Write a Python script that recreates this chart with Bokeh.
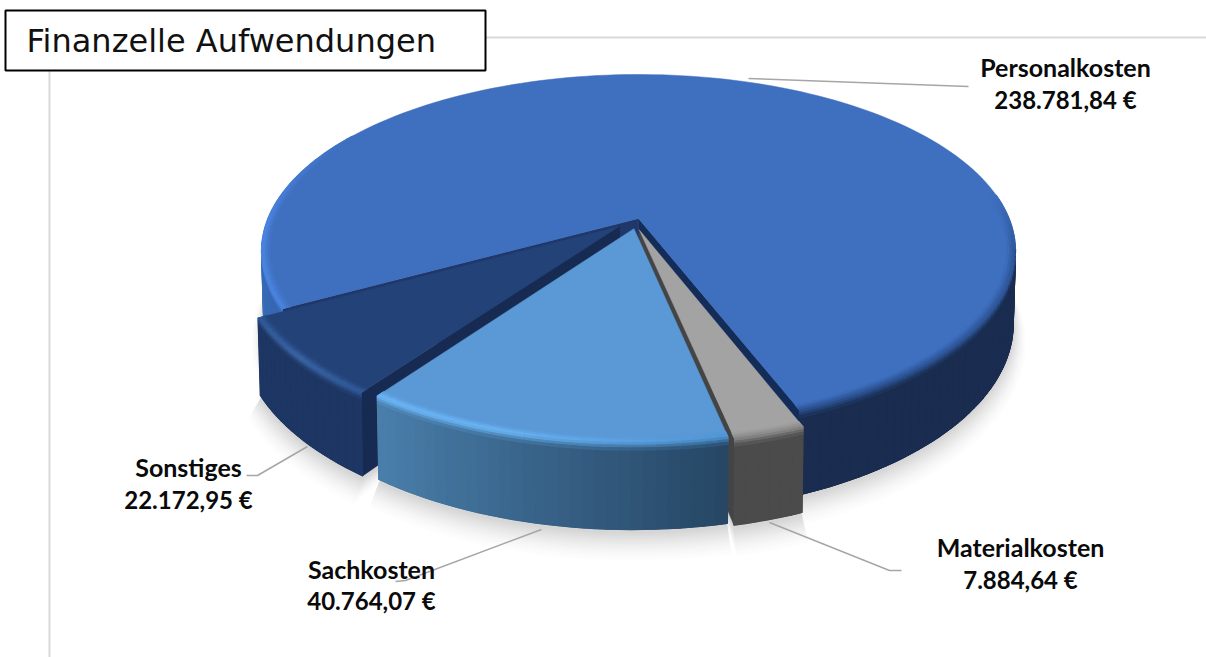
import numpy as np
from bokeh.plotting import figure
from bokeh.embed import file_html
from bokeh.resources import INLINE
from bokeh.core.properties import value

title = "Finanzelle Aufwendungen"
categories = ["Personalkosten", "Materialkosten", "Sachkosten", "Sonstiges"]
values = [238781.84, 7884.64, 40764.07, 22172.95]
explode = [0.0, 0.065, 0.06, 0.068]
explode_turn = [0.0, 15.0, 0.0, 0.0]
top_col = ["#3f6fbf", "#a3a3a3", "#5a98d6", "#234278"]

W, H = 1206, 657
CX, CY, A, B, K, D = 638.0, 218.0, 370.6, 170.5, 0.184, 70.0
FIRST = -118.8

p = figure(width=W, height=H, x_range=(0, W), y_range=(H, 0), output_backend="svg",
           toolbar_location=None, min_border=0, margin=(0, 0, 0, 0),
           outline_line_color=None, background_fill_color="white", border_fill_color="white")
p.axis.visible = False
p.grid.visible = False


def rgb(h):
    return np.array([int(h[i:i + 2], 16) for i in (1, 3, 5)], float)


def mix(a, b, t):
    t = min(max(t, 0.0), 1.0)
    c = rgb(a) * (1 - t) + rgb(b) * t
    return "#%02x%02x%02x" % tuple(int(round(x)) for x in c)


def proj(th, r, z, off):
    u = r * np.sin(np.radians(th)) + off[0]
    v = -r * np.cos(np.radians(th)) + off[1]
    s = 1 / (1 - K * v)
    shrink = 1 - 0.006 * min(z, 1.0)
    return CX + A * u * s * shrink, CY + B * v * s + z * D * s


def arc(t0, t1, r, z, off, n):
    ts = np.linspace(t0, t1, n + 1)
    x, y = proj(ts, r, z, off)
    return list(x), list(y)


total = sum(values)
spans = [v / total * 360 for v in values]
starts = [FIRST + sum(spans[:i]) for i in range(4)]
ends = [s + d for s, d in zip(starts, spans)]
offs = []
for s, d, e, turn in zip(starts, spans, explode, explode_turn):
    m = np.radians(s + d / 2 + turn)
    offs.append((e * np.sin(m), -e * np.cos(m)))


def centre(off, z):
    x, y = proj(0.0, 0.0, z, off)
    return float(x), float(y)


# frame lines and soft shadow
p.line([485, W], [37, 37], line_color="#d9d9d9", line_width=2)
p.line([49, 49], [70, H], line_color="#d9d9d9", line_width=2)
N_SH = 14
for k in range(N_SH):
    f = k / (N_SH - 1)
    grow = 0.030 * (1 - f)
    col = mix("#fdfdfd", "#d6d6d6", f ** 1.4)
    xs, ys = [], []
    for i in range(4):
        cx, cy = centre(offs[i], 1.0)
        ax, ay = arc(starts[i], ends[i], 1 + grow, 1.04 + grow * 7, offs[i], 90)
        xs.append([cx] + ax)
        ys.append([cy] + ay)
    p.patches(xs, ys, fill_color=col, line_color=col, line_width=1)


def radial_wall(th, off, col):
    x0, y0 = centre(off, 0)
    x1, y1 = centre(off, 1)
    x2, y2 = proj(th, 1, 1, off)
    x3, y3 = proj(th, 1, 0, off)
    p.patch([x0, x3, x2, x1], [y0, y3, y2, y1], fill_color=col, line_color=col, line_width=0.5)


LEVELS = [(0.978, 0, 0.0), (0.985, 0, 0.3), (0.992, 0, 0.65), (1.0, 0, 1.0),
          (1.0, 0.03, 0.7), (1.0, 0.06, 0.35), (1.0, 0.10, 0.0), (1.0, 1.0, 0.0)]


def rim(t0, t1, off, top, wallf, highf, inner_only=False):
    """side wall with a bevel strip, split in small columns"""
    n = max(int((t1 - t0) / 1.5), 6)
    ts = np.linspace(t0, t1, n + 1)
    xs, ys, cs = [], [], []
    nlev = 3 if inner_only else len(LEVELS) - 1
    if not inner_only:
        ax, ay = arc(t0, t1, 1, 0, off, n)
        bx, by = arc(t1, t0, 1, 1, off, n)
        mc = wallf((t0 + t1) / 2)
        p.patch(ax + bx, ay + by, fill_color=mc, line_color=mc, line_width=0.5)
    for a, b in zip(ts[:-1], ts[1:]):
        m = (a + b) / 2
        wall, high = wallf(m), highf(m)
        for j in range(nlev):
            r0, z0, _ = LEVELS[j]
            r1, z1, _ = LEVELS[j + 1]
            xa, ya = proj(a, r0, z0, off)
            xb, yb = proj(b, r0, z0, off)
            xc, yc = proj(b, r1, z1, off)
            xd, yd = proj(a, r1, z1, off)
            xs.append([xa, xb, xc, xd])
            ys.append([ya, yb, yc, yd])
            if j <= 2:
                c = mix(top, high, (j + 0.5) / 3)
            elif j <= 5:
                c = mix(high, wall, (j - 2.5) / 3)
            else:
                c = wall
            cs.append(c)
    p.patches(xs, ys, fill_color=cs, line_color=cs, line_width=1.1)


def top_face(i, col):
    cx, cy = centre(offs[i], 0)
    ax, ay = arc(starts[i], ends[i], 1.0, 0, offs[i], 160)
    p.patch([cx] + ax, [cy] + ay, fill_color=col, line_color=col, line_width=0.5)


# Personalkosten
radial_wall(ends[0], offs[0], "#132c58")
radial_wall(starts[0] + 360, offs[0], "#20376a")
# outer wall first, the top face hides what lies behind it
left_wall = lambda t: mix("#3566b0", "#3b6dbb", ((t % 360) - 241) / 30)
left_high = lambda t: mix("#4c86e2", "#3f6fbf", ((t % 360) - 268) / 34)
rim(starts[0] + 360, 262, offs[0], top_col[0], left_wall, left_high)
rim(100, ends[0], offs[0], top_col[0], lambda t: "#1a2d50", lambda t: "#2d5596")
top_face(0, top_col[0])
rim(starts[0] + 360, 302, offs[0], top_col[0], left_wall, left_high, inner_only=True)
rim(82, 100, offs[0], top_col[0], lambda t: "#1a2d50",
    lambda t: mix("#3f6fbf", "#2d5596", (t - 82) / 18), inner_only=True)
rim(100, ends[0], offs[0], top_col[0], lambda t: "#1a2d50", lambda t: "#2d5596")

# Sonstiges
radial_wall(starts[3], offs[3], "#172b52")
top_face(3, top_col[3])
rim(starts[3], ends[3], offs[3], top_col[3],
    lambda t: "#1e3663",
    lambda t: mix("#2f5a9a", "#3d68a8", 1 - abs(t - (starts[3] + ends[3]) / 2) / 15))

# Materialkosten
radial_wall(ends[1], offs[1], "#444444")
top_face(1, top_col[1])
rim(starts[1], ends[1], offs[1], top_col[1], lambda t: "#4b4b4b", lambda t: "#8a8a8a")

# Sachkosten
top_face(2, top_col[2])
rim(starts[2], ends[2], offs[2], top_col[2],
    lambda t: mix("#264664", "#4a7fac", (t - starts[2]) / spans[2]),
    lambda t: mix("#4f94d4", "#6cb7f8", (t - starts[2]) / spans[2] * 1.6))

# leader lines
gr = "#a6a6a6"
p.line([748, 968], [78, 86], line_color=gr, line_width=1.5)
p.line([769, 889, 901], [522, 570, 570], line_color=gr, line_width=1.5)
p.line([541, 405, 395], [529, 580, 581], line_color=gr, line_width=1.5)
p.line([307, 257, 246], [446, 475, 475], line_color=gr, line_width=1.5)

# labels
def euro(v):
    return f"{v:,.2f}".replace(",", "#").replace(".", ",").replace("#", ".") + " €"

label_pos = [(1065, 66, 99), (1020, 546, 579), (371, 568, 600), (188, 466, 499)]
for name, v, (lx, y1, y2) in zip(categories, values, label_pos):
    p.text([lx], [y1], text=[name], text_font=value("Lato"), text_font_style="bold",
           text_font_size="25px", text_color="#0a0a0a", text_align="center", text_baseline="middle")
    p.text([lx], [y2], text=[euro(v)], text_font=value("Lato"), text_font_style="bold",
           text_font_size="24px", text_color="#0a0a0a", text_align="center", text_baseline="middle")

# title box
p.patch([5, 485, 485, 5], [10, 10, 70, 70], fill_color="white", line_color="black", line_width=2)
p.text([26], [40], text=[title], text_font=value("DejaVu Sans"), text_font_size="32px",
       text_color="#111111", text_align="left", text_baseline="middle")

open("out.html", "w").write(file_html(p, INLINE))
